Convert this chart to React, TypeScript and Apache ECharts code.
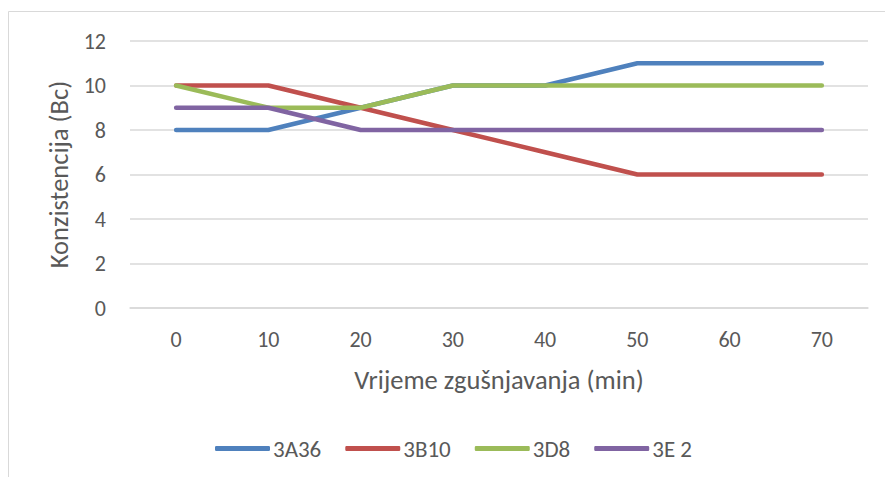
import React, { useEffect, useRef } from "react";
import * as echarts from "echarts";

const categories = ["0", "10", "20", "30", "40", "50", "60", "70"];
const s3A36 = [8, 8, 9, 10, 10, 11, 11, 11];
const s3B10 = [10, 10, 9, 8, 7, 6, 6, 6];
const s3D8 = [10, 9, 9, 10, 10, 10, 10, 10];
const s3E2 = [9, 9, 8, 8, 8, 8, 8, 8];
const seriesNames = ["3A36", "3B10", "3D8", "3E 2"];
const seriesColors = ["#4F81BD", "#C0504D", "#9BBB59", "#8064A2"];

const FONT = "Carlito, 'Open Sans', sans-serif";
const TXT = "#595959";

export default function App() {
  const ref = useRef<HTMLDivElement>(null);
  useEffect(() => {
    if (!ref.current) return;
    const chart = echarts.init(ref.current, null, { renderer: "svg" });
    const data = [s3A36, s3B10, s3D8, s3E2];
    chart.setOption({
      animation: false,
      backgroundColor: "#ffffff",
      textStyle: { fontFamily: FONT, color: TXT },
      graphic: [
        {
          type: "rect",
          shape: { x: 8.5, y: 11.5, width: 1000, height: 1000 },
          style: { fill: "none", stroke: "#d9d9d9", lineWidth: 1 },
          silent: true,
        },
      ],
      grid: { left: 130, right: 17, top: 41, bottom: 169, containLabel: false },
      xAxis: {
        type: "category",
        data: categories,
        boundaryGap: true,
        name: "Vrijeme zgušnjavanja (min)",
        nameLocation: "middle",
        nameGap: 58,
        nameTextStyle: { fontFamily: FONT, fontSize: 26.5, color: TXT },
        axisLine: { show: true, lineStyle: { color: "#d9d9d9", width: 1.5 } },
        axisTick: { show: false },
        axisLabel: { fontFamily: FONT, fontSize: 22, color: TXT, margin: 20 },
      },
      yAxis: {
        type: "value",
        min: 0,
        max: 12,
        interval: 2,
        name: "Konzistencija (Bc)",
        nameLocation: "middle",
        nameGap: 57,
        nameTextStyle: { fontFamily: FONT, fontSize: 26.5, color: TXT },
        axisLine: { show: false },
        axisTick: { show: false },
        axisLabel: { fontFamily: FONT, fontSize: 22, color: TXT, margin: 24 },
        splitLine: { lineStyle: { color: "#d9d9d9", width: 1.5 } },
      },
      legend: {
        bottom: 12,
        left: 210,
        padding: 5,
        itemWidth: 55,
        itemHeight: 5,
        itemGap: 24,
        icon: "roundRect",
        textStyle: { fontFamily: FONT, fontSize: 23, color: TXT, padding: [0, 0, 0, -2] },
        data: seriesNames,
      },
      series: data.map((d, i) => ({
        name: seriesNames[i],
        type: "line",
        data: d,
        showSymbol: false,
        symbol: "none",
        color: seriesColors[i],
        lineStyle: { width: 4.5, color: seriesColors[i], cap: "round", join: "round" },
      })),
    });
    return () => chart.dispose();
  }, []);
  return (
    <div
      ref={ref}
      style={{ position: "fixed", left: 0, top: 0, width: 885, height: 477 }}
    />
  );
}
